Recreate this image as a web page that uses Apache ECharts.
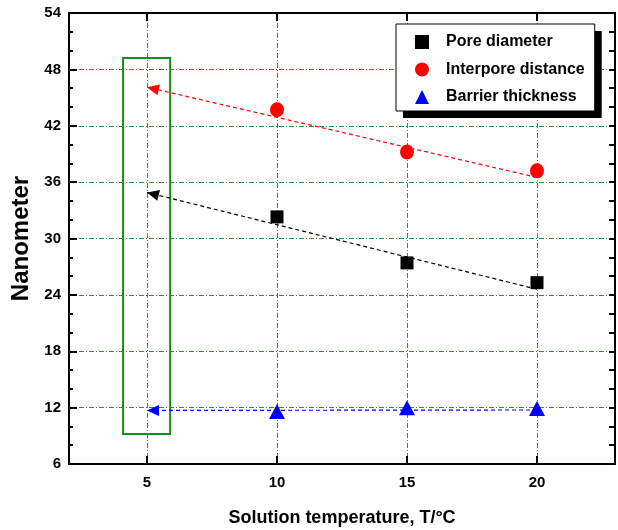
<!DOCTYPE html>
<html>
<head>
<meta charset="utf-8">
<script src="https://cdn.jsdelivr.net/npm/echarts@6/dist/echarts.min.js"></script>
<style>
html,body{margin:0;padding:0;background:#fff;}
#c{width:618px;height:530px;}
</style>
</head>
<body>
<div id="c"></div>
<script>
// ---- data ----
const temperatures = [10, 15, 20];
const poreDiameter = [32.3, 27.4, 25.3];
const interporeDistance = [43.7, 39.2, 37.2];
const barrierThickness = [11.6, 12.0, 11.9];
// dashed extrapolation lines (from T=20 back to T=5)
const poreFit = [[20, 24.6], [5, 34.9]];
const interporeFit = [[20, 36.5], [5, 46.1]];
const barrierFit = [[20, 11.75], [5, 11.7]];
// highlighted region around T=5
const highlightBox = [[4.08, 49.2], [5.89, 9.2]];
const xTickValues = [5, 10, 15, 20];
const seriesNames = ['Pore diameter', 'Interpore distance', 'Barrier thickness'];

const FONT = 'Liberation Sans, Arial, sans-serif';
const gridGreen = '#2a9a2a';

function pts(xs, ys) { return xs.map((x, i) => [x, ys[i]]); }
function fitLine(fit, color) {
  return {
    silent: true,
    symbol: ['none', 'triangle'],
    symbolSize: [11, 12],
    symbolOffset: [[0, 0], [0, 6]],
    label: { show: false },
    emphasis: { disabled: true },
    lineStyle: { type: [4, 3], color: color, width: 1.2 },
    data: [[{ coord: fit[0] }, { coord: fit[1] }]]
  };
}

const legendBase = {
  orient: 'vertical',
  padding: [10, 10, 6, 19],
  itemGap: 11.5,
  itemWidth: 14, itemHeight: 14,
  selectedMode: false,
  data: seriesNames
};
const legendText = { fontFamily: FONT, fontSize: 16, fontWeight: 'bold', lineHeight: 16, padding: [0, 0, 0, 12] };

const chart = echarts.init(document.getElementById('c'), null, { renderer: 'canvas' });
chart.setOption({
  animation: false,
  backgroundColor: '#fff',
  grid: { left: 69, top: 13, right: 3, bottom: 66, containLabel: false, outerBoundsMode: 'none' },
  legend: [
    // solid drop shadow behind the legend box
    Object.assign({}, legendBase, {
      left: 403, top: 31, z: 3,
      backgroundColor: '#000', borderWidth: 0,
      itemStyle: { color: '#000' },
      textStyle: Object.assign({ color: '#000' }, legendText)
    }),
    Object.assign({}, legendBase, {
      left: 396, top: 24, z: 4,
      backgroundColor: '#fff', borderColor: '#000', borderWidth: 1,
      textStyle: Object.assign({ color: '#000' }, legendText)
    })
  ],
  xAxis: [{
    type: 'value', min: 2, max: 23, position: 'bottom',
    name: 'Solution temperature, T/\u00B0C', nameLocation: 'middle', nameGap: 45,
    nameTextStyle: { fontFamily: FONT, fontSize: 18, fontWeight: 'bold', color: '#000' },
    axisLine: { show: true, onZero: false, lineStyle: { color: '#000', width: 2 } },
    axisTick: { show: true, inside: true, length: 8, customValues: xTickValues, lineStyle: { color: '#000', width: 2 } },
    axisLabel: { customValues: xTickValues, margin: 11, fontFamily: FONT, fontSize: 15, fontWeight: 'bold', color: '#000' },
    splitLine: { show: true, lineStyle: { color: gridGreen, type: [5, 2, 1, 2], width: 1 } }
  }, {
    type: 'value', min: 2, max: 23, position: 'top',
    axisLine: { show: true, onZero: false, lineStyle: { color: '#000', width: 2 } },
    axisTick: { show: true, inside: true, length: 8, customValues: xTickValues, lineStyle: { color: '#000', width: 2 } },
    axisLabel: { show: false, customValues: xTickValues },
    splitLine: { show: false }
  }],
  yAxis: [{
    type: 'value', min: 6, max: 54, interval: 6, position: 'left',
    name: 'Nanometer', nameLocation: 'middle', nameGap: 33, nameRotate: 90,
    nameTextStyle: { fontFamily: FONT, fontSize: 24, fontWeight: 'bold', color: '#000' },
    axisLine: { show: true, onZero: false, lineStyle: { color: '#000', width: 2 } },
    axisTick: { show: true, inside: true, length: 8, lineStyle: { color: '#000', width: 2 } },
    minorTick: { show: true, splitNumber: 3, length: 4, lineStyle: { color: '#000', width: 2 } },
    axisLabel: { margin: 8, fontFamily: FONT, fontSize: 15, fontWeight: 'bold', color: '#000' },
    splitLine: { show: true, lineStyle: { color: gridGreen, type: [5, 2, 1, 2], width: 1 } }
  }, {
    type: 'value', min: 6, max: 54, interval: 2, position: 'right',
    axisLine: { show: true, onZero: false, lineStyle: { color: '#000', width: 2 } },
    axisTick: { show: true, inside: true, length: 6, lineStyle: { color: '#000', width: 2 } },
    axisLabel: { show: false },
    splitLine: { show: false }
  }],
  series: [{
    name: seriesNames[0], type: 'scatter', symbol: 'rect', symbolSize: 13,
    itemStyle: { color: '#000', opacity: 1 },
    data: pts(temperatures, poreDiameter),
    markLine: fitLine(poreFit, '#000'),
    markArea: {
      silent: true,
      itemStyle: { color: 'rgba(0,0,0,0)', borderColor: '#168f16', borderWidth: 2 },
      data: [[{ coord: highlightBox[0] }, { coord: highlightBox[1] }]]
    },
    z: 5
  }, {
    name: seriesNames[1], type: 'scatter', symbol: 'circle', symbolSize: [14, 15],
    itemStyle: { color: '#ff0000', opacity: 1 },
    data: pts(temperatures, interporeDistance),
    markLine: fitLine(interporeFit, '#ff0000'),
    z: 5
  }, {
    name: seriesNames[2], type: 'scatter', symbol: 'triangle', symbolSize: [16, 15],
    itemStyle: { color: '#0000ff', opacity: 1 },
    data: pts(temperatures, barrierThickness),
    markLine: fitLine(barrierFit, '#0000ff'),
    z: 5
  }]
});
</script>
</body>
</html>
